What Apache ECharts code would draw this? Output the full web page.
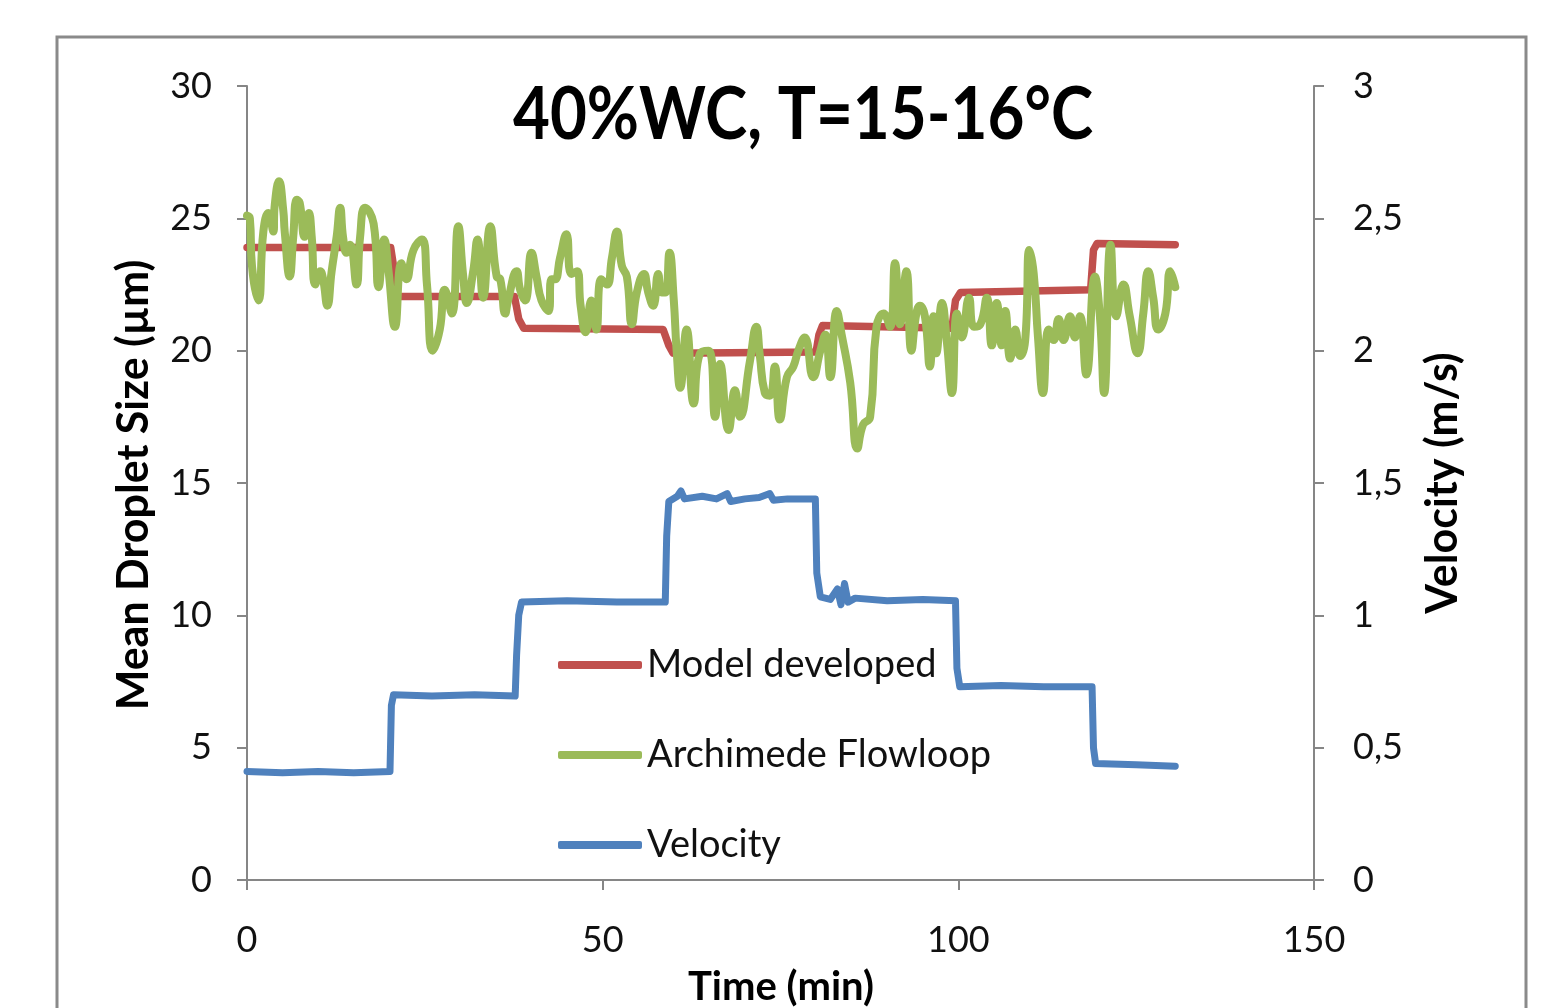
<!DOCTYPE html>
<html>
<head>
<meta charset="utf-8">
<script src="https://cdn.jsdelivr.net/npm/echarts@6/dist/echarts.min.js"></script>
<style>
  html, body { margin: 0; padding: 0; background: #fff; }
  #chart { width: 1556px; height: 1008px; }
</style>
</head>
<body>
<div id="chart"></div>
<script>
// Time (min) / mean droplet size (µm) for the Archimede Flowloop measurement
const flowTime = [0, 0.4, 0.7, 1.6, 2.3, 3.0, 3.7, 3.9, 4.5, 5.1, 5.3, 6.0, 6.5, 7.0, 7.4, 8.1, 8.7, 9.1, 9.6, 10.3,
  10.7, 11.3, 11.9, 12.6, 13.1, 13.5, 14.0, 14.5, 15.4, 15.9, 16.6, 17.8, 18.5, 19.3, 19.9, 20.8, 21.7, 22.4, 23.4, 24.6,
  25.3, 26.1, 27.1, 27.8, 28.8, 29.7, 30.4, 30.9, 31.8, 32.4, 33.2, 34.2, 35.1, 35.6, 36.3, 36.7, 37.9, 38.4, 39.1, 40.0,
  40.7, 41.4, 42.4, 42.8, 43.3, 44.0, 44.9, 45.6, 46.4, 46.9, 47.6, 48.4, 49.1, 49.8, 50.6, 51.3, 52.0, 52.7, 53.4, 54.1,
  54.8, 55.8, 56.4, 57.1, 57.8, 58.3, 58.8, 59.4, 60.0, 60.4, 60.9, 61.8, 62.8, 63.7, 64.9, 65.8, 66.5, 67.7, 68.6, 69.3,
  70.7, 71.6, 72.1, 72.8, 73.5, 74.2, 74.9, 75.9, 76.8, 77.5, 78.4, 79.6, 80.6, 81.3, 82.0, 82.9, 83.6, 84.8, 85.8, 86.6,
  87.6, 88.5, 89.5, 90.4, 91.1, 91.8, 92.7, 93.4, 94.1, 94.6, 95.3, 96.0, 96.5, 96.9, 97.7, 98.4, 99.1, 99.8, 100.5, 101.5,
  102.2, 103.1, 104.0, 104.7, 105.4, 106.1, 106.6, 107.3, 108.0, 108.7, 109.4, 110.0, 110.6, 111.2, 111.9, 112.7, 113.4, 114.1, 114.8, 115.7,
  116.4, 117.1, 118.0, 119.2, 119.9, 120.5, 121.4, 122.2, 123.2, 124.1, 125.2, 126.0, 126.7, 127.4, 128.1, 129.1, 129.8, 130.5];
const flowSize = [25.1, 25.0, 23.2, 21.9, 24.5, 25.2, 24.5, 25.5, 26.4, 25.3, 24.5, 22.8, 24.3, 25.7, 25.6, 24.3, 25.2, 24.3, 22.5, 23.0,
  22.7, 21.7, 23.0, 24.3, 25.4, 24.3, 23.7, 24.0, 22.5, 24.3, 25.4, 24.8, 22.4, 24.2, 23.0, 20.9, 23.3, 22.7, 23.8, 24.2,
  22.5, 20.0, 20.8, 22.3, 21.4, 24.7, 22.8, 21.8, 23.0, 24.2, 22.0, 24.7, 22.8, 22.7, 21.4, 21.9, 23.0, 22.3, 21.9, 23.7,
  22.8, 21.9, 21.5, 22.7, 22.7, 23.5, 24.4, 22.9, 23.0, 21.7, 20.7, 21.9, 20.8, 22.7, 22.5, 23.5, 24.5, 23.2, 22.8, 21.0,
  22.2, 22.9, 22.2, 21.7, 22.9, 22.2, 22.2, 23.7, 21.9, 20.0, 18.6, 20.8, 18.0, 19.9, 20.0, 17.5, 19.5, 17.0, 18.5, 17.5,
  19.6, 20.9, 19.8, 18.4, 18.3, 19.4, 17.4, 19.0, 19.4, 20.0, 20.5, 19.0, 20.0, 20.6, 19.0, 21.5, 20.6, 18.8, 16.3, 17.2,
  17.5, 20.9, 21.4, 20.9, 23.3, 21.0, 23.0, 20.0, 21.4, 21.7, 21.3, 19.4, 21.3, 19.9, 21.8, 20.3, 18.4, 21.4, 20.5, 22.0,
  20.9, 21.0, 22.0, 20.2, 21.8, 20.2, 21.5, 19.7, 20.8, 19.8, 20.4, 23.8, 22.9, 20.5, 18.4, 20.8, 20.4, 21.2, 20.4, 21.3,
  20.5, 21.3, 19.1, 22.8, 21.3, 18.4, 24.0, 21.3, 22.5, 21.3, 19.9, 21.4, 23.0, 22.0, 20.8, 21.4, 23.0, 22.4];

// Model developed
const modelTime = [0, 20.2, 20.6, 21.2, 37.6, 38.2, 38.9, 58.5, 59.3, 59.9, 80.0, 80.4, 80.9, 99.1, 99.6, 100.3, 118.6, 119.0, 119.5, 130.5];
const modelSize = [23.9, 23.9, 23.2, 22.05, 22.05, 21.2, 20.85, 20.8, 20.2, 19.9, 19.95, 20.6, 20.95, 20.85, 21.9, 22.2, 22.3, 23.8, 24.05, 24.0];

// Velocity (m/s), right axis
const velTime = [0, 5, 10, 15, 20.1, 20.3, 20.6, 26, 32, 37.7, 37.9, 38.2, 38.6, 45, 52, 58.8, 59.0, 59.3, 60.5, 61.0,
  61.5, 64, 66, 67.5, 68, 70, 72, 73.5, 74, 76, 79.9, 80.1, 80.6, 82, 83, 83.5, 84, 84.5, 85.5, 90,
  95, 99.6, 99.8, 100.2, 106, 112, 118.8, 119.0, 119.3, 125, 130.5];
const velValue = [0.41, 0.405, 0.41, 0.405, 0.41, 0.66, 0.70, 0.695, 0.70, 0.695, 0.85, 1.0, 1.05, 1.055, 1.05, 1.05, 1.30, 1.43, 1.45, 1.47,
  1.44, 1.45, 1.44, 1.46, 1.43, 1.44, 1.445, 1.46, 1.435, 1.44, 1.44, 1.16, 1.07, 1.06, 1.10, 1.04, 1.12, 1.05, 1.065, 1.055,
  1.06, 1.055, 0.80, 0.73, 0.735, 0.73, 0.73, 0.50, 0.44, 0.435, 0.43];

const zip = (xs, ys) => xs.map((x, i) => [x, ys[i]]);

const FONT = 'Lato';
const axisGray = '#868686';

let myChart = echarts.init(document.getElementById('chart'));
let option = {
    animation: false,
    backgroundColor: '#fff',
    textStyle: { fontFamily: FONT },
    graphic: [
        {
            type: 'rect',
            shape: { x: 57, y: 37, width: 1469, height: 1000 },
            style: { fill: 'none', stroke: '#8a8a8a', lineWidth: 3 },
            silent: true
        },
        {
            type: 'text',
            x: 803, y: 116, scaleX: 0.885,
            style: { text: '40%WC, T=15-16°C', font: 'bold 72px Lato', fill: '#000', align: 'center', verticalAlign: 'middle' }
        },
        {
            type: 'text',
            x: 134, y: 485, rotation: Math.PI / 2,
            style: { text: 'Mean Droplet Size (µm)', font: 'bold 43px Lato', fill: '#000', align: 'center', verticalAlign: 'middle' }
        },
        {
            type: 'text',
            x: 1443, y: 483, rotation: Math.PI / 2,
            style: { text: 'Velocity (m/s)', font: 'bold 43px Lato', fill: '#000', align: 'center', verticalAlign: 'middle' }
        },
        {
            type: 'text',
            x: 781, y: 987,
            style: { text: 'Time (min)', font: 'bold 40px Lato', fill: '#000', align: 'center', verticalAlign: 'middle' }
        }
    ],
    legend: {
        orient: 'vertical',
        left: 558,
        top: 645,
        padding: 0,
        itemWidth: 84,
        itemHeight: 8,
        itemGap: 50,
        icon: 'roundRect',
        data: ['Model developed', 'Archimede Flowloop', 'Velocity'],
        textStyle: { fontSize: 38, lineHeight: 40, color: '#111', fontFamily: FONT }
    },
    grid: { left: 247, right: 242, top: 86, bottom: 128 },
    xAxis: {
        type: 'value',
        min: 0, max: 150, interval: 50,
        splitLine: { show: false },
        axisLine: { lineStyle: { color: axisGray, width: 2 } },
        axisTick: { length: 10, lineStyle: { color: axisGray, width: 2 } },
        axisLabel: { fontSize: 36, color: '#111', margin: 42 }
    },
    yAxis: [
        {
            type: 'value',
            min: 0, max: 30, interval: 5,
            splitLine: { show: false },
            axisLine: { show: true, lineStyle: { color: axisGray, width: 2 } },
            axisTick: { show: true, length: 10, lineStyle: { color: axisGray, width: 2 } },
            axisLabel: { fontSize: 36, color: '#111', margin: 35 }
        },
        {
            type: 'value',
            position: 'right',
            min: 0, max: 3, interval: 0.5,
            splitLine: { show: false },
            axisLine: { show: true, lineStyle: { color: axisGray, width: 2 } },
            axisTick: { show: true, length: 10, lineStyle: { color: axisGray, width: 2 } },
            axisLabel: {
                fontSize: 36, color: '#111', margin: 39,
                formatter: v => String(v).replace('.', ',')
            }
        }
    ],
    series: [
        {
            name: 'Model developed',
            type: 'line',
            showSymbol: false,
            color: '#C0504D',
            lineStyle: { width: 7.5, cap: 'round', join: 'round' },
            data: zip(modelTime, modelSize)
        },
        {
            name: 'Archimede Flowloop',
            type: 'line',
            showSymbol: false,
            smooth: 0.5,
            color: '#9BBB59',
            lineStyle: { width: 8, cap: 'round', join: 'round' },
            data: zip(flowTime, flowSize)
        },
        {
            name: 'Velocity',
            type: 'line',
            yAxisIndex: 1,
            showSymbol: false,
            color: '#4F81BD',
            lineStyle: { width: 7, cap: 'round', join: 'round' },
            data: zip(velTime, velValue)
        }
    ]
};
myChart.setOption(option);
</script>
</body>
</html>
